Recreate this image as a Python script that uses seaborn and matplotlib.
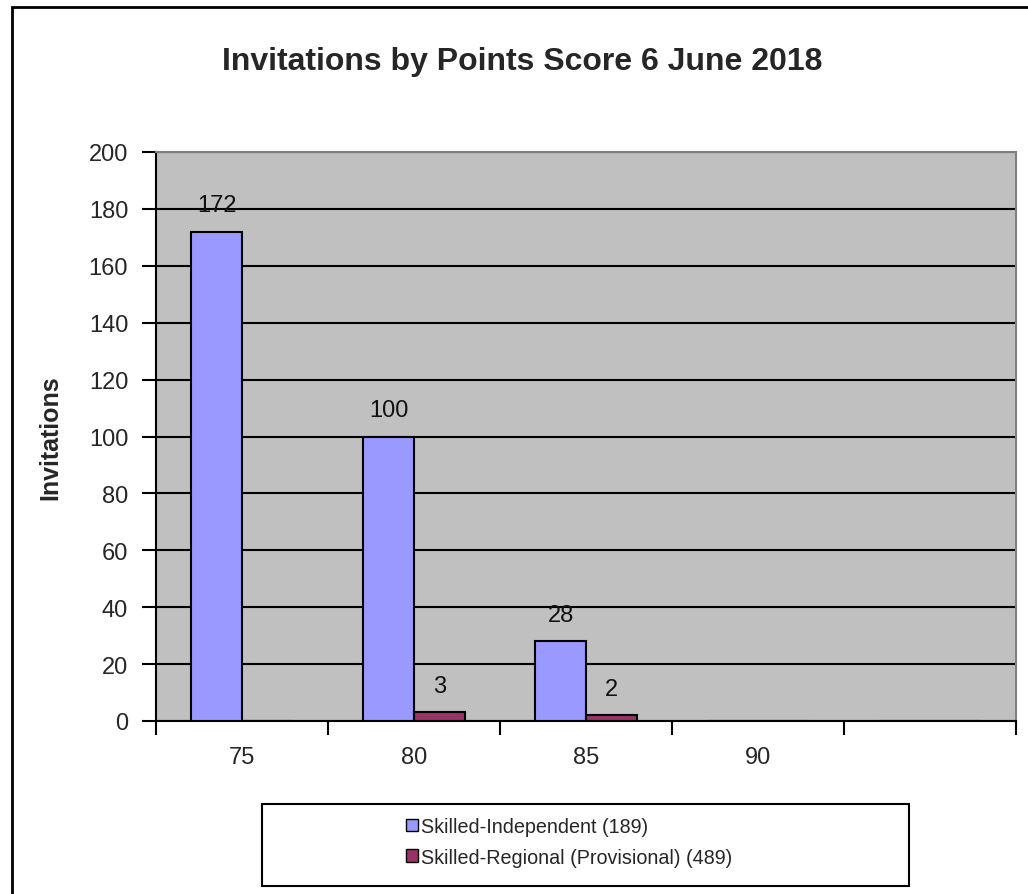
import matplotlib
matplotlib.use("Agg")
import matplotlib.pyplot as plt
import seaborn as sns
import pandas as pd
from matplotlib.patches import Rectangle

scores = ["75", "80", "85", "90", " "]
independent = [172, 100, 28, 0, 0]
regional = [0, 3, 2, 0, 0]
series_names = ["Skilled-Independent (189)", "Skilled-Regional (Provisional) (489)"]
colors = ["#9999FF", "#993366"]

df = pd.DataFrame({
    "score": scores * 2,
    "invitations": independent + regional,
    "series": [series_names[0]] * len(scores) + [series_names[1]] * len(scores),
})

sns.set_style("white")
plt.rcParams["font.family"] = ["Liberation Sans", "DejaVu Sans"]

W, H = 1028, 895
fig = plt.figure(figsize=(W / 100, H / 100), dpi=100)
ax = fig.add_axes([156 / W, 1 - 722 / H, (1016 - 156) / W, (722 - 153) / H])
ax.set_facecolor("#C0C0C0")

sns.barplot(data=df, x="score", y="invitations", hue="series", order=scores,
            hue_order=series_names, palette=colors, saturation=1, width=0.59,
            edgecolor="black", linewidth=1.5, legend=False, ax=ax, zorder=3)

for container in ax.containers:
    labels = [f"{b.get_height():.0f}" if b.get_height() > 0 else "" for b in container]
    ax.bar_label(container, labels=labels, padding=11, fontsize=17, color="#111111")

ax.set_ylim(0, 200)
ax.set_xlim(-0.5, len(scores) - 0.5)
ax.set_yticks(range(0, 201, 20))
ax.yaxis.grid(True, color="black", linewidth=1.5, zorder=1)
ax.set_axisbelow(True)
ax.tick_params(axis="y", left=True, direction="out", length=10, width=1.5, color="black",
               labelsize=17, pad=10)

ax.set_xticks([i - 0.5 for i in range(len(scores) + 1)])
ax.set_xticklabels([])
ax.set_xticks(range(len(scores)), minor=True)
ax.set_xticklabels(scores, minor=True, fontsize=17)
ax.tick_params(axis="x", which="major", bottom=True, direction="out", length=10, width=1.5,
               color="black")
ax.tick_params(axis="x", which="minor", bottom=True, length=0, pad=18)

ax.set_xlabel("")
ax.set_ylabel("Invitations", fontsize=18, fontweight="bold")
ax.yaxis.set_label_coords(-(156 - 62) / (1016 - 156), 0.5)

for side in ["left", "bottom"]:
    ax.spines[side].set_color("black")
    ax.spines[side].set_linewidth(1.5)
for side in ["top", "right"]:
    ax.spines[side].set_color("#808080")
    ax.spines[side].set_linewidth(1.5)

fig.text(522 / W, 1 - 62 / H, "Invitations by Points Score 6 June 2018",
         ha="center", va="center", fontsize=23, fontweight="bold")

# outer chart border
fig.add_artist(Rectangle((12 / W, -0.01), 1.02, 1 - 8 / H + 0.01, transform=fig.transFigure,
                         fill=False, edgecolor="black", linewidth=2))

# legend box
fig.add_artist(Rectangle((262 / W, 1 - 887 / H), (909 - 262) / W, (887 - 805) / H,
                         transform=fig.transFigure, fill=False, edgecolor="black", linewidth=1.5))
handles = [Rectangle((0, 0), 1, 1, facecolor=c, edgecolor="black", linewidth=1) for c in colors]
fig.legend(handles, series_names, loc="upper left", bbox_to_anchor=(396 / W, 1 - 808 / H),
           frameon=False, fontsize=14.2, handlelength=0.6, handleheight=0.6,
           handletextpad=0.15, labelspacing=0.6, borderpad=0)

fig.savefig("out.png", dpi=100)
